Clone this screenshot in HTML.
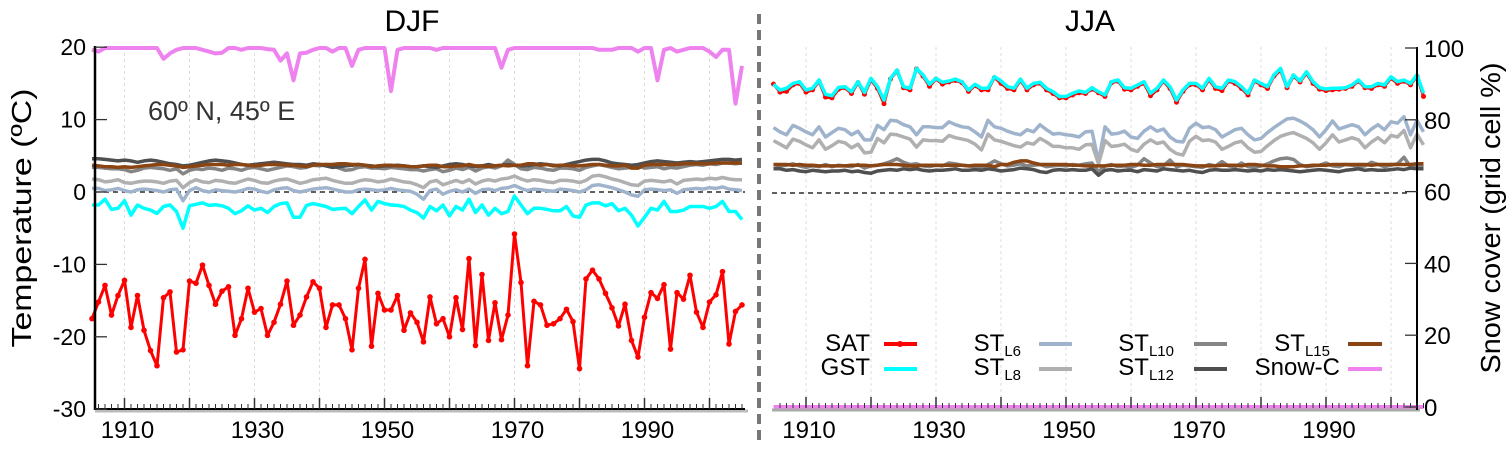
<!DOCTYPE html>
<html><head><meta charset="utf-8">
<style>
html,body{margin:0;padding:0;background:#fff;}
svg{display:block;font-family:"Liberation Sans",Arial,sans-serif;}
</style></head>
<body>
<svg id="chart" width="1512" height="449" viewBox="0 0 1512 449" xmlns="http://www.w3.org/2000/svg">
  <g id="gridL"></g>
  <g id="gridR"></g>
  <line x1="95" y1="192" x2="745" y2="192" stroke="#000" stroke-width="1.3" stroke-dasharray="5,4"/>
  <line x1="772" y1="193" x2="1410" y2="193" stroke="#000" stroke-width="1.3" stroke-dasharray="5,4"/>
  <g id="seriesL"></g>
  <g id="seriesR"></g>

  <!-- axes -->
  <line x1="95" y1="411" x2="748" y2="411" stroke="#bbb" stroke-width="3"/>
  <line x1="95" y1="409" x2="745" y2="409" stroke="#000" stroke-width="2"/>
  <line x1="95" y1="46" x2="95" y2="410" stroke="#000" stroke-width="2.5"/>
  <line x1="772" y1="410" x2="1420" y2="410" stroke="#aaa" stroke-width="3"/>
  <line x1="1417" y1="47" x2="1417" y2="410" stroke="#000" stroke-width="2"/>
  <g id="ticksL"></g>
  <g id="ticksR"></g>

  <line x1="759" y1="14" x2="759" y2="442" stroke="#777" stroke-width="4" stroke-dasharray="10,6"/>

  <text x="412" y="31" font-size="30" text-anchor="middle">DJF</text>
  <text x="1090" y="31" font-size="30" text-anchor="middle">JJA</text>
  <text transform="translate(31,218) rotate(-90)" font-size="28" text-anchor="middle" textLength="259" lengthAdjust="spacingAndGlyphs">Temperature (ºC)</text>
  <text transform="translate(1500,218) rotate(-90)" font-size="28" text-anchor="middle" textLength="311" lengthAdjust="spacingAndGlyphs">Snow cover (grid cell %)</text>
  <text x="148" y="120" font-size="27" fill="#333">60º N, 45º E</text>

  <g font-size="24">
    <g>
      <text x="870" y="351" text-anchor="end">SAT</text>
      <line x1="884" y1="344" x2="917" y2="344" stroke="#f00" stroke-width="4"/>
      <circle cx="900" cy="344" r="3" fill="#f00"/>
    </g>
    <g>
      <text x="870" y="375" text-anchor="end">GST</text>
      <line x1="884" y1="369" x2="917" y2="369" stroke="#0ff" stroke-width="4"/>
    </g>
    <g>
      <text x="1021" y="351" text-anchor="end">ST<tspan font-size="15" dy="5">L6</tspan></text>
      <line x1="1039" y1="344" x2="1072" y2="344" stroke="#9fb4cc" stroke-width="4"/>
    </g>
    <g>
      <text x="1021" y="375" text-anchor="end">ST<tspan font-size="15" dy="5">L8</tspan></text>
      <line x1="1039" y1="369" x2="1072" y2="369" stroke="#b0b0b0" stroke-width="4"/>
    </g>
    <g>
      <text x="1174" y="351" text-anchor="end">ST<tspan font-size="15" dy="5">L10</tspan></text>
      <line x1="1194" y1="344" x2="1227" y2="344" stroke="#858585" stroke-width="4"/>
    </g>
    <g>
      <text x="1174" y="375" text-anchor="end">ST<tspan font-size="15" dy="5">L12</tspan></text>
      <line x1="1194" y1="369" x2="1227" y2="369" stroke="#4f4f4f" stroke-width="4"/>
    </g>
    <g>
      <text x="1330" y="351" text-anchor="end">ST<tspan font-size="15" dy="5">L15</tspan></text>
      <line x1="1348" y1="344" x2="1382" y2="344" stroke="#8b4513" stroke-width="4"/>
    </g>
    <g>
      <text x="1340" y="375" text-anchor="end">Snow-C</text>
      <line x1="1348" y1="369" x2="1382" y2="369" stroke="#ee82ee" stroke-width="4"/>
    </g>
  </g>
</svg>
<script>
const startYear = 1905;
const tempTicks = [20, 10, 0, -10, -20, -30];
const snowTicks = [0, 20, 40, 60, 80, 100];
const yearLabels = [1910, 1930, 1950, 1970, 1990];

const djfSAT = [-17.5,-15.2,-12.9,-17.0,-14.3,-12.2,-18.7,-14.3,-19.1,-21.9,-24.0,-14.6,-13.8,-22.1,-21.8,-12.3,-12.6,-10.1,-12.9,-15.5,-13.7,-13.1,-19.8,-17.5,-13.3,-16.6,-16.1,-19.8,-18.0,-15.5,-12.3,-18.4,-17.0,-14.5,-12.4,-13.3,-18.7,-15.6,-15.6,-17.5,-21.8,-13.3,-9.3,-21.3,-14.0,-16.3,-16.3,-14.3,-19.1,-16.7,-18.0,-20.7,-14.5,-18.2,-17.5,-20.0,-14.6,-19.0,-9.2,-21.2,-11.4,-20.5,-15.3,-20.4,-17.0,-5.8,-12.5,-24.0,-15.1,-15.6,-18.4,-18.2,-17.5,-16.2,-17.9,-24.4,-12.0,-10.8,-12.0,-14.0,-16.0,-18.5,-15.5,-20.5,-22.8,-17.3,-13.9,-14.7,-12.8,-21.7,-13.9,-14.8,-11.5,-16.6,-18.7,-15.2,-14.2,-11.0,-21.0,-16.5,-15.6];
const djfGST = [-1.8,-1.8,-1.0,-2.4,-2.25,-1.2,-3.2,-1.8,-2.25,-2.5,-2.95,-2.0,-1.8,-2.7,-5.0,-1.9,-1.7,-1.5,-1.85,-1.75,-1.9,-2.25,-3.0,-2.6,-1.9,-2.5,-2.25,-2.85,-2.0,-1.6,-1.5,-3.5,-3.5,-1.85,-1.6,-1.8,-2.0,-2.4,-2.3,-2.25,-3.0,-2.0,-1.1,-2.5,-1.3,-1.6,-1.8,-1.85,-2.0,-2.5,-2.85,-3.6,-2.0,-2.6,-1.8,-3.3,-2.0,-2.5,-1.0,-2.85,-1.8,-3.2,-2.25,-3.0,-2.7,-0.55,-1.8,-3.0,-2.25,-2.25,-2.4,-2.6,-2.6,-2.0,-3.3,-3.5,-1.8,-1.5,-1.5,-1.9,-1.6,-2.6,-2.25,-3.2,-4.7,-3.5,-2.25,-2.5,-1.3,-2.7,-2.7,-2.5,-2.0,-2.0,-2.0,-2.25,-2.0,-1.3,-2.7,-2.7,-3.8];
const djfL6 = [0.5,0.5,0.2,0.3,0.5,0.2,0.0,0.3,0.4,0.3,0.2,0.0,0.3,0.4,-1.2,0.2,0.6,0.2,0.0,0.3,0.2,0.1,0.0,0.2,0.5,0.4,0.1,-0.1,0.3,0.5,0.6,0.2,0.0,0.2,0.4,0.5,0.6,0.4,0.2,0.0,0.0,0.3,0.4,0.3,0.2,0.3,0.5,0.3,0.2,0.1,-0.3,-1.0,0.2,0.4,-0.3,0.1,0.3,0.0,0.4,-0.2,0.3,0.4,0.2,0.5,0.6,0.9,0.5,0.2,0.4,0.3,0.2,0.1,0.4,0.3,0.2,0.0,0.3,0.9,1.0,0.8,0.6,0.3,0.0,-0.4,-0.6,0.3,0.4,0.3,0.2,0.3,-0.2,0.3,0.4,0.5,0.4,0.6,0.5,0.7,0.4,0.3,0.2];
const djfL8 = [1.8,1.7,1.4,1.5,1.7,1.3,1.2,1.4,1.5,1.5,1.4,1.2,1.5,1.6,0.6,1.3,1.7,1.4,1.3,1.6,1.5,1.3,1.2,1.5,1.8,1.6,1.3,1.2,1.5,1.7,1.8,1.5,1.2,1.4,1.7,1.8,1.9,1.6,1.4,1.2,1.2,1.5,1.7,1.6,1.4,1.5,1.8,1.6,1.4,1.3,1.0,0.6,1.4,1.6,1.0,1.3,1.6,1.3,1.7,1.1,1.5,1.7,1.5,1.8,1.9,2.2,1.8,1.5,1.7,1.6,1.4,1.3,1.6,1.6,1.5,1.3,1.6,2.2,2.3,2.1,1.8,1.6,1.3,1.0,0.9,1.5,1.6,1.5,1.4,1.6,1.1,1.6,1.7,1.8,1.7,1.9,1.8,2.0,1.8,1.7,1.7];
const djfL10 = [3.4,3.4,3.3,3.2,3.2,3.1,2.8,3.0,3.3,3.4,3.3,3.2,3.0,3.2,2.5,3.0,3.2,3.1,3.3,3.2,3.0,3.3,3.2,3.0,3.3,3.4,3.2,3.0,3.2,3.4,3.6,3.5,3.3,3.4,3.7,3.6,3.8,3.6,3.3,3.0,3.1,3.4,3.5,3.3,3.3,3.2,3.4,3.3,3.2,3.1,3.1,2.9,3.1,3.2,2.8,3.0,3.3,3.1,3.4,2.9,3.3,3.5,3.3,3.6,4.4,3.8,3.2,3.1,3.4,3.3,3.1,3.0,3.3,3.3,3.2,3.0,3.4,3.6,3.8,3.6,3.4,3.2,3.3,3.4,3.6,3.3,3.4,3.5,3.2,3.4,3.3,3.5,3.7,3.8,3.7,3.9,3.8,4.0,4.0,3.9,4.0];
const djfL12 = [4.6,4.6,4.5,4.4,4.3,4.4,4.3,4.1,4.3,4.4,4.3,4.1,3.9,3.8,3.6,3.7,3.9,4.1,4.3,4.4,4.3,4.2,4.0,3.8,3.7,3.8,3.9,4.0,4.1,4.0,3.9,3.8,3.8,3.7,3.9,3.8,3.6,3.4,3.5,3.6,3.7,3.8,3.7,3.6,3.5,3.6,3.6,3.7,3.6,3.5,3.5,3.6,3.5,3.4,3.6,3.8,3.9,3.8,3.6,3.5,3.6,3.8,3.6,3.7,3.8,3.7,3.6,3.6,3.8,3.9,3.8,3.7,3.6,3.8,4.0,4.2,4.4,4.5,4.5,4.3,4.0,3.9,3.8,3.7,3.8,4.0,4.2,4.3,4.2,4.1,4.0,4.1,4.2,4.1,4.2,4.3,4.4,4.5,4.5,4.4,4.5];
const djfL15 = [3.7,3.6,3.5,3.5,3.4,3.5,3.4,3.5,3.6,3.7,3.8,3.8,3.7,3.6,3.4,3.5,3.6,3.7,3.8,3.8,3.8,3.7,3.8,3.8,3.7,3.6,3.7,3.8,3.8,3.8,3.7,3.7,3.6,3.5,3.7,3.8,3.8,3.8,3.9,3.9,3.8,3.8,3.7,3.5,3.6,3.7,3.7,3.6,3.6,3.5,3.5,3.6,3.7,3.7,3.5,3.5,3.6,3.6,3.8,3.6,3.6,3.5,3.6,3.7,3.6,3.7,3.7,3.9,3.9,3.7,3.8,3.6,3.7,3.7,3.6,3.6,3.7,3.8,3.8,3.7,3.6,3.6,3.7,3.3,3.3,3.7,3.8,3.8,3.8,3.8,3.8,3.9,3.9,3.9,3.9,3.9,4.0,4.0,4.0,4.0,4.0];
const djfSnow = [99.5,99,100,100,100,100,100,100,100,100,100,97,98.5,99.5,100,100,100,99.5,99,98.5,98.7,100,100,99.5,100,100,100,99.7,99.5,96.5,98.5,91,98.5,98.7,99.5,100,100,99,100,100,95,99.5,100,100,100,100,88,99.5,100,100,100,100,100,99.5,100,100,100,100,100,100,100,100,100,94.5,99.5,100,100,100,100,100,100,100,100,100,100,100,100,100,99.5,99.5,99.5,100,100,100,99,100,100,91,99.5,100,99,99.5,100,100,100,99,97.5,99.5,99.5,84.5,95];

const jjaSAT = [14.9,13.8,13.9,14.8,15.0,13.8,14.1,15.3,13.1,13.0,14.2,14.4,13.6,15.1,13.5,15.5,14.3,12.2,15.6,16.7,14.4,14.1,17.0,16.0,14.6,15.6,14.9,15.2,15.4,15.1,13.9,14.7,14.1,14.1,15.8,15.0,14.3,14.1,15.4,14.1,14.8,15.0,14.1,13.6,13.0,13.0,13.4,13.7,13.6,14.2,13.7,13.2,15.1,15.3,14.2,14.1,14.6,15.0,13.3,14.1,15.3,14.3,12.4,13.9,14.8,14.8,14.1,15.5,14.3,14.0,15.3,15.0,14.3,13.4,15.3,14.8,14.3,16.0,16.8,14.4,16.0,15.2,16.4,15.0,14.2,14.0,14.1,14.2,14.3,14.6,15.3,14.4,14.3,14.8,14.6,15.7,15.0,15.3,14.8,16.0,13.2];
const jjaGST = [14.87,14.09,14.32,15.0,15.24,14.09,14.32,15.47,13.49,13.3,14.45,14.55,13.86,15.24,13.76,15.7,14.55,12.7,15.7,16.85,14.55,14.32,17.08,16.16,14.87,15.7,15.15,15.33,15.6,15.24,14.09,14.87,14.32,14.32,15.93,15.33,14.55,14.32,15.6,14.32,15.0,15.15,14.32,13.86,13.17,13.21,13.63,13.95,13.76,14.41,13.86,13.4,15.24,15.47,14.41,14.32,14.78,15.24,13.63,14.32,15.47,14.55,12.7,14.09,15.0,15.0,14.32,15.7,14.55,14.32,15.47,15.24,14.55,13.63,15.47,15.0,14.55,16.16,17.08,14.55,16.16,15.33,16.62,15.24,14.41,14.22,14.32,14.32,14.41,14.78,15.47,14.55,14.55,15.0,14.78,15.93,15.24,15.47,15.0,16.16,13.63];
const jjaL6 = [8.9,8.3,7.9,9.2,8.8,8.3,7.9,9.0,7.6,8.2,8.8,8.6,7.9,8.4,7.2,7.2,9.2,8.6,9.9,9.8,9.3,9.0,7.9,9.0,9.0,8.9,8.9,9.7,9.3,9.0,8.9,8.3,7.6,9.9,9.0,8.8,8.4,8.1,7.9,8.6,8.3,9.3,8.6,8.0,8.1,7.9,7.8,7.6,8.3,8.4,4.2,9.0,8.0,8.1,8.4,7.6,7.4,8.4,9.0,8.4,8.7,7.6,7.0,6.9,8.8,9.5,8.9,9.0,8.6,7.6,8.1,8.6,8.8,7.9,7.2,7.4,8.2,8.9,9.5,10.1,10.2,9.8,9.3,8.6,7.6,8.6,9.8,8.7,9.0,9.3,9.0,7.9,8.7,9.3,8.6,9.7,9.5,10.4,7.9,9.9,8.3];
const jjaL8 = [7.1,6.6,6.1,7.3,7.0,6.5,6.1,7.2,5.9,6.4,7.0,6.8,6.1,6.6,5.4,5.5,7.4,6.8,8.0,7.9,7.6,7.3,6.2,7.2,7.1,7.1,7.0,7.8,7.5,7.3,7.1,6.6,5.8,8.0,7.2,7.0,6.7,6.4,6.2,6.8,6.6,7.4,6.9,6.3,6.3,6.1,6.1,5.9,6.5,6.6,3.9,7.1,6.3,6.4,6.6,5.9,5.6,6.6,7.2,6.7,6.9,5.9,5.3,5.1,7.0,7.7,7.1,7.2,6.9,5.9,6.3,6.8,7.0,6.1,5.5,5.6,6.4,7.1,7.7,8.0,8.2,7.8,7.4,6.8,5.9,6.8,7.9,6.9,7.2,7.5,7.2,6.1,6.9,7.5,6.8,7.8,7.6,8.5,6.1,8.0,6.5];
const jjaL10 = [3.8,3.6,3.7,3.9,3.6,3.4,3.6,3.5,3.8,3.5,3.7,3.6,3.5,3.8,3.3,3.6,3.7,3.9,4.2,4.6,4.1,3.8,3.9,3.6,3.5,3.7,3.6,4.0,3.9,3.7,3.6,3.5,3.3,3.8,4.3,3.9,3.6,3.7,3.9,3.6,3.7,3.8,3.5,3.6,3.7,3.6,3.8,3.7,3.9,4.0,2.8,3.6,3.8,3.5,3.6,3.4,3.7,4.6,4.0,3.5,3.6,4.4,3.5,3.7,3.6,3.5,3.4,3.8,3.6,4.2,3.6,3.5,4.0,3.5,3.4,3.6,3.9,4.3,4.6,4.7,4.5,3.8,3.5,3.6,3.7,4.0,3.6,3.5,3.8,3.7,3.5,3.6,4.1,3.8,3.5,3.7,3.9,4.8,3.5,3.6,3.7];
const jjaL12 = [3.2,3.2,3.0,3.1,2.9,2.8,3.0,2.9,2.8,2.9,2.9,3.0,2.8,2.9,2.7,2.6,2.9,3.0,3.1,3.0,3.2,3.1,3.2,3.0,2.9,3.0,3.0,3.1,3.2,3.0,3.0,3.1,3.0,3.2,3.1,2.9,3.0,3.1,3.3,3.2,3.1,2.8,2.7,3.0,3.1,3.0,3.1,3.0,3.0,3.2,2.3,3.0,3.1,2.9,3.0,3.0,2.8,3.1,3.0,2.9,3.2,3.1,3.0,2.9,3.0,2.8,2.7,3.0,3.1,3.0,3.0,3.1,3.0,2.9,3.0,2.9,3.1,3.0,3.1,3.0,2.9,2.8,2.9,3.0,3.1,3.0,2.9,2.8,3.0,3.1,3.2,3.0,3.1,3.0,3.0,3.1,3.2,3.1,3.3,3.2,3.2];
const jjaL15 = [3.8,3.8,3.8,3.7,3.8,3.7,3.7,3.6,3.6,3.6,3.6,3.6,3.7,3.7,3.7,3.6,3.7,3.8,3.8,3.8,3.7,3.6,3.6,3.7,3.7,3.7,3.7,3.7,3.7,3.7,3.6,3.7,3.7,3.7,3.5,3.8,3.8,4.1,4.3,4.3,4.0,3.8,3.8,3.8,3.8,3.8,3.7,3.7,3.6,3.6,3.6,3.6,3.7,3.7,3.7,3.8,3.8,3.7,3.7,3.8,3.8,3.8,3.8,3.8,3.7,3.6,3.6,3.6,3.6,3.7,3.7,3.7,3.6,3.8,3.8,3.7,3.6,3.6,3.5,3.5,3.5,3.6,3.6,3.7,3.7,3.7,3.8,3.8,3.8,3.8,3.8,3.8,3.7,3.8,3.8,3.8,3.8,3.8,3.8,3.9,3.9];
const jjaSnow = [0,0,0,0,0,0,0,0,0,0,0,0,0,0,0,0,0,0,0,0,0,0,0,0,0,0,0,0,0,0,0,0,0,0,0,0,0,0,0,0,0,0,0,0,0,0,0,0,0,0,0,0,0,0,0,0,0,0,0,0,0,0,0,0,0,0,0,0,0,0,0,0,0,0,0,0,0,0,0,0,0,0,0,0,0,0,0,0,0,0,0,0,0,0,0,0,0,0,0,0,0];

const NS = "http://www.w3.org/2000/svg";
function xL(year){ return 92 + (year - startYear) * 6.5; }
function xR(year){ return 773.5 + (year - startYear) * 6.5; }
function yT(v){ return 192 - v * 7.24; }
function yS(s){ return 407 - s * 3.59; }
function mk(tag, attrs, parent){
  const e = document.createElementNS(NS, tag);
  for (const k in attrs) e.setAttribute(k, attrs[k]);
  parent.appendChild(e);
  return e;
}
function pts(arr, xf, yf){ return arr.map((v,i)=> xf(startYear+i).toFixed(1)+","+yf(v).toFixed(1)).join(" "); }

// gridlines
const gL = document.getElementById("gridL"), gR = document.getElementById("gridR");
for (let y = 1910; y <= 2000; y += 10){
  const a = mk("line",{x1:xL(y),x2:xL(y),y1:47,y2:409,stroke:"#ddd","stroke-width":1,"stroke-dasharray":"3,3"},gL);
  
  
  const b = mk("line",{x1:xR(y),x2:xR(y),y1:47,y2:409,stroke:"#ddd","stroke-width":1,"stroke-dasharray":"3,3"},gR);
  
  
}

// series
function drawLine(parent, arr, xf, yf, color, w, name){
  const p = mk("polyline",{points:pts(arr,xf,yf),fill:"none",stroke:color,"stroke-width":w,"stroke-linejoin":"round"},parent);
  
  
  return p;
}
function drawMarkers(parent, arr, xf, yf, color, r, name){
  arr.forEach((v,i)=>{
    const c = mk("circle",{cx:xf(startYear+i),cy:yf(v),r:r,fill:color},parent);
    
    
  });
}
const sL = document.getElementById("seriesL"), sR = document.getElementById("seriesR");
drawLine(sL, djfL6, xL, yT, "#9fb4cc", 3.5, "djf-stl6-line");
drawLine(sL, djfL8, xL, yT, "#b0b0b0", 3.5, "djf-stl8-line");
drawLine(sL, djfL10, xL, yT, "#858585", 3.5, "djf-stl10-line");
drawLine(sL, djfL12, xL, yT, "#4f4f4f", 3.5, "djf-stl12-line");
drawLine(sL, djfL15, xL, yT, "#8b4513", 3.5, "djf-stl15-line");
drawLine(sL, djfGST, xL, yT, "#00ffff", 3.5, "djf-gst-line");
drawLine(sL, djfSAT, xL, yT, "#ff0000", 3, "djf-sat-line");
drawMarkers(sL, djfSAT, xL, yT, "#ff0000", 2.8, "djf-sat-marker");
drawLine(sL, djfSnow, xL, yS, "#ee82ee", 4, "djf-snow-line");

drawLine(sR, jjaL6, xR, yT, "#9fb4cc", 3.5, "jja-stl6-line");
drawLine(sR, jjaL8, xR, yT, "#b0b0b0", 3.5, "jja-stl8-line");
drawLine(sR, jjaL10, xR, yT, "#858585", 3.5, "jja-stl10-line");
drawLine(sR, jjaL12, xR, yT, "#4f4f4f", 3.5, "jja-stl12-line");
drawLine(sR, jjaL15, xR, yT, "#8b4513", 3.5, "jja-stl15-line");
drawLine(sR, jjaSAT, xR, yT, "#ff0000", 3, "jja-sat-line");
drawMarkers(sR, jjaSAT, xR, yT, "#ff0000", 2.5, "jja-sat-marker");
drawLine(sR, jjaGST, xR, yT, "#00ffff", 3.5, "jja-gst-line");
drawLine(sR, jjaSnow, xR, yS, "#ee82ee", 4, "jja-snow-line");

// ticks
const tL = document.getElementById("ticksL"), tR = document.getElementById("ticksR");
tempTicks.forEach(v=>{
  const l = mk("line",{x1:95,x2:107,y1:yT(v),y2:yT(v),stroke:"#333","stroke-width":1.3},tL);
  
  
  const t = mk("text",{x:86,y:yT(v)+8,"font-size":23,"text-anchor":"end"},tL);
  t.textContent = v;
  
  
});
snowTicks.forEach(v=>{
  const l = mk("line",{x1:1405,x2:1417,y1:yS(v),y2:yS(v),stroke:"#333","stroke-width":1.3},tR);
  
  
  const t = mk("text",{x:1424,y:yS(v)+9,"font-size":24,"text-anchor":"start"},tR);
  t.textContent = v;
  
  
});
for (let y = 1906; y <= 2005; y++){
  const major = (y % 10 === 0);
  const h = major ? 11 : 5;
  const a = mk("line",{x1:xL(y),x2:xL(y),y1:409,y2:409-h,stroke:"#333","stroke-width":major?1.5:1},tL);
  
  
  const b = mk("line",{x1:xR(y),x2:xR(y),y1:408,y2:408-h,stroke:"#333","stroke-width":major?1.5:1},tR);
  
  
}
yearLabels.forEach(y=>{
  const a = mk("text",{x:xL(y)+3,y:438,"font-size":24,"text-anchor":"middle"},tL);
  a.textContent = y;
  
  
  const b = mk("text",{x:xR(y)+3,y:438,"font-size":24,"text-anchor":"middle"},tR);
  b.textContent = y;
  
  
});
</script>
</body></html>
